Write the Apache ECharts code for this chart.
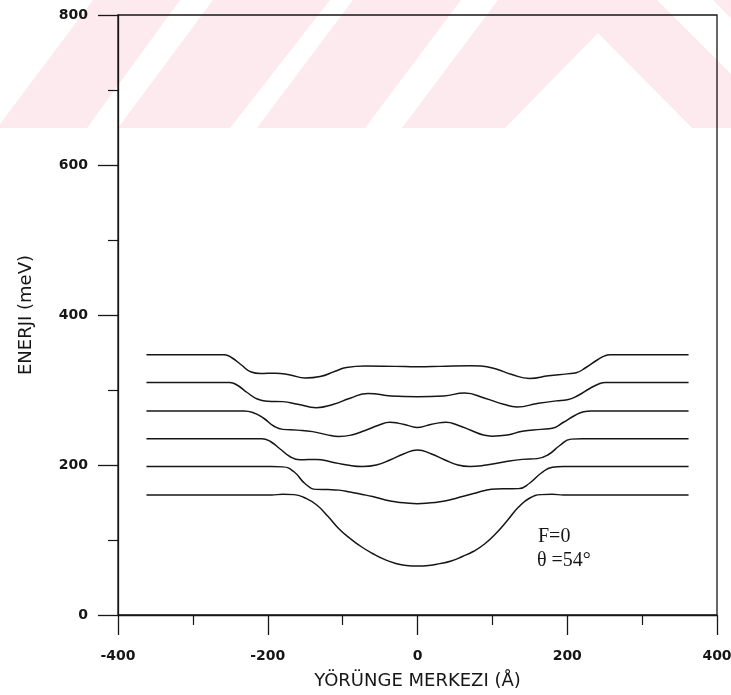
<!DOCTYPE html>
<html>
<head>
<meta charset="utf-8">
<script src="https://cdn.jsdelivr.net/npm/echarts@6/dist/echarts.min.js"></script>
<style>
  html, body { margin: 0; padding: 0; background: #ffffff; }
  #chart { width: 731px; height: 695px; }
</style>
</head>
<body>
<div id="chart"></div>
<script>
// Energy levels (meV) versus orbit centre (Å), six lowest levels, F = 0, θ = 54°
const level1 = [
  [-362, 160], [-195, 160], [-180, 161], [-165, 160.5], [-150, 156], [-135, 147],
  [-120, 132], [-105, 115], [-90, 102], [-75, 91], [-60, 82], [-45, 74.5],
  [-30, 69], [-15, 66], [0, 65.3], [15, 66], [30, 68.5], [45, 72], [60, 78],
  [75, 85], [90, 95], [105, 109], [120, 126], [135, 144], [150, 156],
  [165, 160.5], [180, 161], [195, 160], [362, 160]
];
const level2 = [
  [-362, 198], [-195, 198], [-180, 197.5], [-165, 191], [-150, 175], [-135, 167.5],
  [-120, 167.2], [-105, 166.5], [-90, 164], [-75, 161], [-60, 158], [-45, 154],
  [-30, 151], [-15, 149.3], [0, 148.5], [15, 149.3], [30, 151], [45, 154],
  [60, 158], [75, 162], [90, 166], [105, 168], [120, 168.3], [135, 168.5],
  [150, 176], [165, 189], [180, 197], [195, 198], [362, 198]
];
const level3 = [
  [-362, 235], [-208, 235], [-196, 231], [-183, 221], [-170, 211], [-157, 207],
  [-135, 207.5], [-115, 204], [-94, 200], [-73, 198], [-55, 200], [-36, 207],
  [-18, 215], [0, 220], [18, 215], [36, 207], [54, 200], [70, 198], [92, 200],
  [115, 204], [140, 207.5], [160, 208.5], [175, 214], [190, 226], [205, 234.5],
  [220, 235], [362, 235]
];
const level4 = [
  [-362, 272], [-232, 272], [-220, 270], [-205, 262], [-192, 252], [-180, 247.5],
  [-160, 246.5], [-140, 244.5], [-122, 240.5], [-105, 238], [-88, 240], [-70, 246],
  [-52, 253], [-37, 257], [-25, 255.5], [-12, 252.5], [0, 250], [12, 252.5],
  [25, 255.5], [38, 257], [54, 253], [72, 246], [88, 240], [100, 238.5],
  [120, 240], [140, 245], [165, 247.5], [180, 249], [195, 257], [210, 266],
  [222, 271], [232, 272], [362, 272]
];
const level5 = [
  [-362, 310], [-251, 310], [-240, 306], [-228, 297], [-214, 288], [-200, 285],
  [-180, 284.5], [-160, 281], [-135, 276.5], [-112, 281], [-90, 289], [-66, 295.5],
  [-35, 292], [0, 291], [35, 292], [63, 296], [90, 289], [115, 281],
  [133, 277.5], [160, 282], [185, 285.5], [200, 287], [215, 293], [230, 302],
  [242, 308], [251, 310], [362, 310]
];
const level6 = [
  [-362, 347], [-258, 347], [-248, 343], [-236, 334], [-222, 324], [-210, 322],
  [-190, 322.5], [-170, 320], [-150, 316], [-130, 318], [-110, 325], [-95, 330],
  [-70, 332], [-30, 331.5], [0, 331], [30, 331.5], [70, 332.5], [85, 332],
  [105, 328], [125, 321], [150, 315.5], [175, 319], [200, 321.5], [212, 323],
  [225, 330], [240, 340], [250, 345.5], [257, 347], [362, 347]
];
const levels = [level1, level2, level3, level4, level5, level6];

const xAxisTitle = 'YÖRÜNGE MERKEZI (Å)';
const yAxisTitle = 'ENERJI (meV)';
const noteField = 'F=0';
const noteAngle = 'θ =54°';

const ink = '#161616';
const pink = '#fdeaee';

// Pale striped backdrop along the top edge
const backdrop = [
  [[-3, 128], [87, 128], [180, 0], [93, 0]],
  [[118, 128], [230, 128], [330, 0], [213, 0]],
  [[257, 128], [365, 128], [461, 0], [353, 0]],
  [[402, 128], [505, 128], [598, 33], [692, 128], [731, 128], [731, 74], [657, 0], [498, 0]],
  [[713, 0], [731, 0], [731, 18]]
].map(pts => ({
  type: 'polygon',
  z: -10,
  silent: true,
  shape: { points: pts },
  style: { fill: pink }
}));

const chart = echarts.init(document.getElementById('chart'), null, { renderer: 'canvas' });

chart.setOption({
  backgroundColor: '#ffffff',
  animation: false,
  grid: {
    left: 118, right: 14, top: 15, bottom: 80,
    outerBoundsMode: 'none',
    containLabel: false,
    show: true, borderColor: ink, borderWidth: 1.3,
    backgroundColor: 'transparent'
  },
  xAxis: {
    type: 'value', min: -400, max: 400, interval: 200,
    name: xAxisTitle, nameLocation: 'middle', nameGap: 57,
    nameTextStyle: { fontFamily: 'DejaVu Sans', fontSize: 18, color: ink },
    axisLine: { show: true, onZero: false, lineStyle: { color: ink, width: 1.3 } },
    axisTick: { show: true, inside: false, length: 20, lineStyle: { color: ink, width: 1.3 } },
    minorTick: { show: true, splitNumber: 2, length: 10, lineStyle: { color: ink, width: 1.2 } },
    axisLabel: { margin: 34, fontFamily: 'DejaVu Sans', fontWeight: 'bold', fontSize: 14, color: ink },
    splitLine: { show: false }
  },
  yAxis: {
    type: 'value', min: 0, max: 800, interval: 200,
    name: yAxisTitle, nameLocation: 'middle', nameGap: 83, nameRotate: 90,
    nameTextStyle: { fontFamily: 'DejaVu Sans', fontSize: 18, color: ink },
    axisLine: { show: true, onZero: false, lineStyle: { color: ink, width: 1.3 } },
    axisTick: { show: true, inside: false, length: 20, lineStyle: { color: ink, width: 1.3 } },
    minorTick: { show: true, splitNumber: 2, length: 10, lineStyle: { color: ink, width: 1.2 } },
    axisLabel: { margin: 30, fontFamily: 'DejaVu Sans', fontWeight: 'bold', fontSize: 14, color: ink },
    splitLine: { show: false }
  },
  graphic: backdrop.concat([
    {
      type: 'text', left: 538, top: 527, z: 10,
      style: { text: noteField, font: '20px "Liberation Serif"', fill: ink }
    },
    {
      type: 'text', left: 537, top: 551, z: 10,
      style: { text: noteAngle, font: '20px "Liberation Serif"', fill: ink }
    }
  ]),
  series: levels.map(data => ({
    type: 'line',
    data: data,
    smooth: 0.5,
    showSymbol: false,
    silent: true,
    lineStyle: { color: ink, width: 1.5 },
    z: 3
  }))
});
</script>
</body>
</html>
